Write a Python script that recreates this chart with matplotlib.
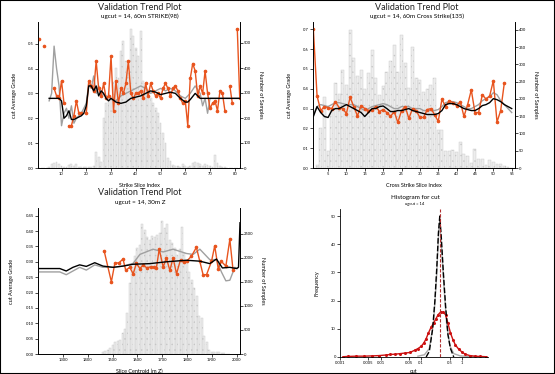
import numpy as np
import matplotlib
matplotlib.use("Agg")
import matplotlib.pyplot as plt
from matplotlib.patches import Rectangle

plt.rcParams['font.family'] = ['Lato', 'DejaVu Sans']
plt.rcParams['hatch.linewidth'] = 0.3

nan = np.nan
RED = '#e8541e'
GREY = '#a0a0a0'

# ---- panel 1 : strike slices ----
s_idx = list(range(1, 83))
s_count = [0, 0, 0, 0, 5, 15, 20, 25, 18, 10, 5, 3, 12, 15, 8, 15, 4, 3, 5, 3,
           6, 4, 8, 64, 45, 25, 200, 260, 300, 280, 345, 400, 360, 470, 510, 430,
           380, 556, 527, 480, 450, 547, 350, 320, 300, 280, 260, 240, 220, 180,
           140, 100, 40, 30, 12, 8, 10, 6, 15, 10, 5, 8, 20, 25, 22, 18, 8, 15,
           12, 10, 6, 53, 20, 8, 4, 3, 2, 2, 2, 0, 0, 0]
s_red = [0.52, nan, 0.49, nan, nan, nan, 0.32, 0.29, 0.28, 0.35, 0.26, nan, 0.17,
         0.17, 0.21, 0.27, 0.22, 0.22, nan, 0.22, 0.35, 0.33, 0.31, 0.43, 0.32,
         0.29, 0.34, 0.28, 0.29, 0.45, 0.23, 0.35, 0.26, 0.32, 0.30, 0.34, 0.43,
         0.30, 0.28, 0.30, 0.30, 0.31, 0.28, 0.34, 0.29, 0.34, 0.31, 0.29, 0.30,
         0.28, 0.32, 0.34, 0.32, 0.29, 0.32, 0.33, 0.31, 0.28, 0.26, 0.27, 0.17,
         0.36, 0.42, 0.39, 0.29, 0.33, 0.30, 0.39, 0.30, 0.24, 0.26, 0.27, 0.23,
         0.31, 0.30, 0.23, nan, 0.33, 0.26, nan, 0.56, 0.28]
s_blk_x = [5, 6, 7, 8, 9, 10, 11, 12, 13, 14, 15, 16, 17, 18, 19, 20, 21, 22, 23,
           24, 25, 26, 27, 28, 29, 30, 32, 34, 36, 38, 40, 42, 44, 46, 48, 50, 52,
           54, 56, 58, 60, 61, 62, 64, 66, 68, 70, 75, 82]
s_blk_y = [0.28, 0.28, 0.28, 0.28, 0.28, 0.27, 0.20, 0.21, 0.23, 0.195, 0.195, 0.20,
           0.205, 0.21, 0.22, 0.25, 0.33, 0.33, 0.31, 0.33, 0.29, 0.31, 0.30, 0.28,
           0.27, 0.28, 0.265, 0.26, 0.265, 0.28, 0.285, 0.29, 0.30, 0.31, 0.305,
           0.295, 0.30, 0.305, 0.30, 0.28, 0.265, 0.265, 0.275, 0.30, 0.28, 0.28,
           0.28, 0.28, 0.28]
s_gry_x = [5, 6, 7, 8, 9, 10, 11, 12, 13, 14, 15, 16, 18, 20, 21, 22, 23, 24, 25,
           26, 28, 30, 32, 34, 36, 38, 40, 42, 44, 46, 48, 50, 52, 54, 56, 58, 60,
           62, 64, 66, 67, 68, 69, 70, 72, 74, 76, 82]
s_gry_y = [0.27, 0.30, 0.49, 0.40, 0.33, 0.17, 0.22, 0.24, 0.20, 0.25, 0.18, 0.20,
           0.22, 0.26, 0.34, 0.32, 0.37, 0.30, 0.33, 0.30, 0.29, 0.28, 0.27, 0.29,
           0.30, 0.31, 0.32, 0.33, 0.32, 0.30, 0.31, 0.32, 0.31, 0.32, 0.31, 0.29,
           0.28, 0.30, 0.33, 0.30, 0.25, 0.28, 0.22, 0.28, 0.28, 0.28, 0.28, 0.28]

# ---- panel 2 : cross strike slices ----
c_idx = list(range(1, 56))
c_count = [0, 10, 115, 207, 48, 175, 245, 215, 283, 240, 400, 320, 266, 283, 228,
           274, 343, 260, 211, 237, 279, 310, 356, 279, 385, 303, 231, 351, 260,
           255, 221, 230, 240, 260, 110, 110, 48, 50, 52, 45, 74, 40, 35, 14, 55,
           25, 25, 10, 22, 16, 12, 11, 5, 2, 0]
c_red = [0.70, 0.364, 0.29, 0.31, 0.305, 0.30, 0.335, 0.305, 0.30, 0.275, 0.357,
         0.31, 0.263, 0.315, 0.30, 0.29, 0.295, 0.31, 0.285, 0.295, 0.28, 0.26,
         0.285, 0.23, 0.29, 0.31, 0.25, 0.30, 0.29, 0.255, 0.255, 0.295, 0.30,
         0.27, 0.235, 0.347, 0.31, 0.34, 0.33, 0.315, 0.335, 0.26, 0.32, 0.394,
         0.28, 0.28, 0.37, 0.348, 0.364, 0.44, 0.232, 0.29, 0.43, nan, nan]
c_blk = [0.26, 0.31, 0.28, 0.26, 0.255, 0.29, 0.30, 0.30, 0.31, 0.32, 0.31, 0.30,
         0.29, 0.28, 0.26, 0.28, 0.30, 0.30, 0.31, 0.313, 0.30, 0.285, 0.285, 0.29,
         0.29, 0.295, 0.30, 0.29, 0.285, 0.28, 0.275, 0.27, 0.27, 0.27, 0.275, 0.29,
         0.32, 0.325, 0.325, 0.32, 0.31, 0.30, 0.295, 0.29, 0.29, 0.30, 0.315, 0.32,
         0.33, 0.35, 0.345, 0.335, 0.32, 0.31, 0.30]
c_gry = [0.27, 0.31, 0.32, 0.315, 0.31, 0.32, 0.33, 0.33, 0.325, 0.32, 0.32, 0.32,
         0.31, 0.30, 0.29, 0.30, 0.31, 0.315, 0.32, 0.325, 0.32, 0.31, 0.30, 0.30,
         0.31, 0.31, 0.31, 0.30, 0.30, 0.30, 0.29, 0.29, 0.29, 0.29, 0.295, 0.31,
         0.33, 0.335, 0.335, 0.33, 0.32, 0.31, 0.30, 0.30, 0.31, 0.32, 0.34, 0.35,
         0.36, 0.38, 0.37, 0.34, 0.32, 0.30, 0.28]

# ---- panel 3 : Z slices ----
z_bin = list(range(1460, 1980, 10))
z_count = [40, 65, 85, 120, 185, 250, 280, 300, 445, 510, 855, 1470, 1800, 2030,
           2200, 2260, 2690, 2570, 2420, 2360, 2450, 2420, 2480, 2510, 2750, 2620,
           2690, 2360, 2300, 2200, 2060, 2180, 2630, 2090, 1890, 1700, 1530, 1370,
           1200, 780, 740, 380, 250, 75, 50, 45, 45, 40, 30, 20, 10, 5]
z_red_x = [1466, 1495, 1509, 1526, 1542, 1553, 1569, 1583, 1596, 1610, 1623, 1637,
           1653, 1666, 1677, 1688, 1704, 1717, 1731, 1744, 1758, 1774, 1787, 1801,
           1818, 1838, 1852, 1865, 1879, 1899, 1912, 1926, 1939, 1957, 1973, 1986]
z_red_y = [0.335, 0.235, 0.295, 0.297, 0.309, 0.272, 0.282, 0.261, 0.295, 0.278,
           0.289, 0.281, 0.283, 0.283, 0.281, 0.341, 0.283, 0.312, 0.272, 0.312,
           0.261, 0.307, 0.298, 0.304, 0.318, 0.347, 0.301, 0.258, 0.258, 0.301,
           0.352, 0.278, 0.301, 0.286, 0.373, 0.272]
z_blk_x = [1199, 1287, 1313, 1340, 1367, 1394, 1428, 1461, 1502, 1542, 1583, 1650,
           1717, 1798, 1852, 1892, 1919, 1943, 1973, 2000, 2008, 2014]
z_blk_y = [0.278, 0.278, 0.27, 0.282, 0.29, 0.285, 0.297, 0.286, 0.282, 0.286,
           0.292, 0.294, 0.30, 0.305, 0.302, 0.294, 0.309, 0.28, 0.282, 0.278,
           0.282, 0.427]
z_gry_x = [1199, 1287, 1313, 1367, 1394, 1428, 1461, 1502, 1542, 1583, 1610, 1663,
           1704, 1744, 1798, 1825, 1852, 1892, 1919, 1939, 1957, 1973, 1993, 2003]
z_gry_y = [0.267, 0.267, 0.258, 0.282, 0.273, 0.29, 0.282, 0.282, 0.286, 0.295,
           0.324, 0.341, 0.332, 0.341, 0.327, 0.324, 0.341, 0.307, 0.307, 0.267,
           0.238, 0.24, 0.282, 0.278]

# ---- panel 4 : histogram for cut ----
h_red_x = [0.0012, 0.00158, 0.00251, 0.00398, 0.0063, 0.0091, 0.0132, 0.0174,
           0.0229, 0.0302, 0.0398, 0.0525, 0.0692, 0.0832, 0.1, 0.116, 0.132, 0.15,
           0.174, 0.201, 0.229, 0.26, 0.302, 0.35, 0.398, 0.453, 0.525, 0.608,
           0.692, 0.832, 1.0, 1.2, 1.58, 2.09, 2.75, 3.98]
h_red_y = [0.1, 0.2, 0.3, 0.3, 0.4, 0.5, 0.7, 0.9, 1.0, 1.2, 1.4, 1.6, 2.4, 3.0,
           3.8, 5.0, 6.5, 8.5, 10.5, 12, 13.5, 15, 16, 15.8, 15, 12, 8.5, 6, 4.3,
           2.8, 1.8, 1.0, 0.5, 0.3, 0.2, 0.1]
h_blk_x = [0.132, 0.158, 0.191, 0.217, 0.242, 0.265, 0.286, 0.313, 0.35, 0.398,
           0.453, 0.525, 0.631]
h_blk_y = [0, 2, 10, 20, 32, 44, 50, 42, 30, 18, 8, 3, 0]
h_gry_x = [0.083, 0.12, 0.158, 0.2, 0.238, 0.27, 0.286, 0.313, 0.363, 0.42, 0.505,
           0.631, 0.91, 1.91, 2.75]
h_gry_y = [0.3, 0.8, 3, 12, 28, 45, 48, 40, 25, 12, 4, 1.2, 0.4, 0.1, 0]
cut_mean = 0.286

W, H = 555, 374
fig = plt.figure(figsize=(W / 100, H / 100), dpi=100)
fig.patches.append(Rectangle((0, 0), 1, 1, transform=fig.transFigure, fill=False,
                             ec='black', lw=1.5))


def box(l, t, r, b):
    return [l / W, 1 - b / H, (r - l) / W, (b - t) / H]


def style(ax):
    ax.tick_params(labelsize=3, length=2, width=0.5, pad=1)
    for s in ax.spines.values():
        s.set_linewidth(0.6)
    ax.spines['top'].set_visible(False)


def trend(rect, xs, counts, bw, lines, ylim, yticks, yfmt, clim, cticks,
          xlim, xticks, xlabel, title, sub, cx):
    ax = fig.add_axes(rect)
    ax2 = ax.twinx()
    ax2.bar(xs, counts, width=bw, color='#ededed', edgecolor='#c6c6c6',
            hatch='...', lw=0.3)
    ax.set_zorder(ax2.get_zorder() + 1)
    ax.patch.set_visible(False)
    for (lx, ly, kw) in lines:
        ax.plot(lx, ly, **kw)
    ax.set_xlim(*xlim)
    ax.set_ylim(*ylim)
    ax.set_yticks(yticks)
    ax.set_yticklabels([yfmt % v for v in yticks])
    ax.set_xticks(xticks)
    ax2.set_ylim(*clim)
    ax2.set_yticks(cticks)
    style(ax)
    style(ax2)
    ax.set_xlabel(xlabel, fontsize=4, labelpad=5)
    ax.set_ylabel('cut Average Grade', fontsize=4, labelpad=8)
    ax2.set_ylabel('Number of Samples', fontsize=4, rotation=270, labelpad=8)
    t = 1 - rect[1] - rect[3]
    fig.text(cx / W, 1 - (t * H - 15) / H, title, ha='center', va='center',
             fontsize=6.5, color='#222222')
    fig.text(cx / W, 1 - (t * H - 6) / H, sub, ha='center', va='center',
             fontsize=4.5)
    return ax


trend(box(38, 22, 240, 168), s_idx, s_count, 0.75,
      [(s_gry_x, s_gry_y, dict(color=GREY, lw=1)),
       (s_idx, s_red, dict(color=RED, lw=1, marker='o', ms=1.6)),
       (s_blk_x, s_blk_y, dict(color='black', lw=1))],
      (0, 0.587), [0, 0.1, 0.2, 0.3, 0.4, 0.5], '%.1f',
      (0, 584), [0, 100, 200, 300, 400, 500],
      (0.5, 82.1), [10, 20, 30, 40, 50, 60, 70, 80],
      'Strike Slice Index', 'Validation Trend Plot',
      'ugcut = 14, 60m STRIKE(98)', 140)

trend(box(313, 22, 515, 168), c_idx, c_count, 0.8,
      [(c_idx, c_gry, dict(color=GREY, lw=1)),
       (c_idx, c_red, dict(color=RED, lw=1, marker='o', ms=1.6)),
       (c_idx, c_blk, dict(color='black', lw=1))],
      (0, 0.737), [0, 0.1, 0.2, 0.3, 0.4, 0.5, 0.6, 0.7], '%.1f',
      (0, 423), [0, 50, 100, 150, 200, 250, 300, 350, 400],
      (0.9, 55.9), [5, 10, 15, 20, 25, 30, 35, 40, 45, 50, 55],
      'Cross Strike Slice Index', 'Validation Trend Plot',
      'ugcut = 14, 60m Cross Strike(135)', 417)

trend(box(38, 208, 240, 354), z_bin, z_count, 8,
      [(z_gry_x, z_gry_y, dict(color=GREY, lw=1)),
       (z_red_x, z_red_y, dict(color=RED, lw=1, marker='o', ms=1.6)),
       (z_blk_x, z_blk_y, dict(color='black', lw=1))],
      (0, 0.475), [0, 0.05, 0.1, 0.15, 0.2, 0.25, 0.3, 0.35, 0.4, 0.45], '%.2f',
      (0, 3030), [0, 500, 1000, 1500, 2000, 2500],
      (1199, 2014), [1300, 1400, 1500, 1600, 1700, 1800, 1900, 2000],
      'Slice Centroid (m Z)', 'Validation Trend Plot',
      'ugcut = 14, 30m Z', 140)

ax4 = fig.add_axes(box(340, 209, 488, 357))
ax4.set_xscale('log')
ax4.plot(h_gry_x, h_gry_y, color='#aaaaaa', lw=1)
ax4.plot(h_red_x, h_red_y, color='#cc1111', lw=1, marker='o', ms=1.2)
ax4.plot(h_blk_x, h_blk_y, color='black', lw=1, ls='--', dashes=(4, 1.5))
ax4.axvline(cut_mean, color='#b03030', lw=0.8, ls='--', dashes=(3, 1.5))
ax4.set_xlim(0.00105, 4.4)
ax4.set_ylim(0, 52.5)
ax4.set_yticks([0, 10, 20, 30, 40, 50])
xt = [0.001, 0.005, 0.01, 0.05, 0.1, 0.5, 1]
ax4.set_xticks(xt)
ax4.set_xticklabels(['0.001', '0.005', '0.01', '0.05', '0.1', '0.5', '1'])
ax4.minorticks_off()
style(ax4)
ax4.spines['right'].set_visible(False)
ax4.set_xlabel('cut', fontsize=4, labelpad=3)
ax4.set_ylabel('Frequency', fontsize=4, labelpad=8)
fig.text(415 / W, 1 - 197 / H, 'Histogram for cut', ha='center', va='center',
         fontsize=4.5)
fig.text(415 / W, 1 - 204 / H, 'ugcut = 14', ha='center', va='center',
         fontsize=3)

fig.savefig('out.png', dpi=100)
